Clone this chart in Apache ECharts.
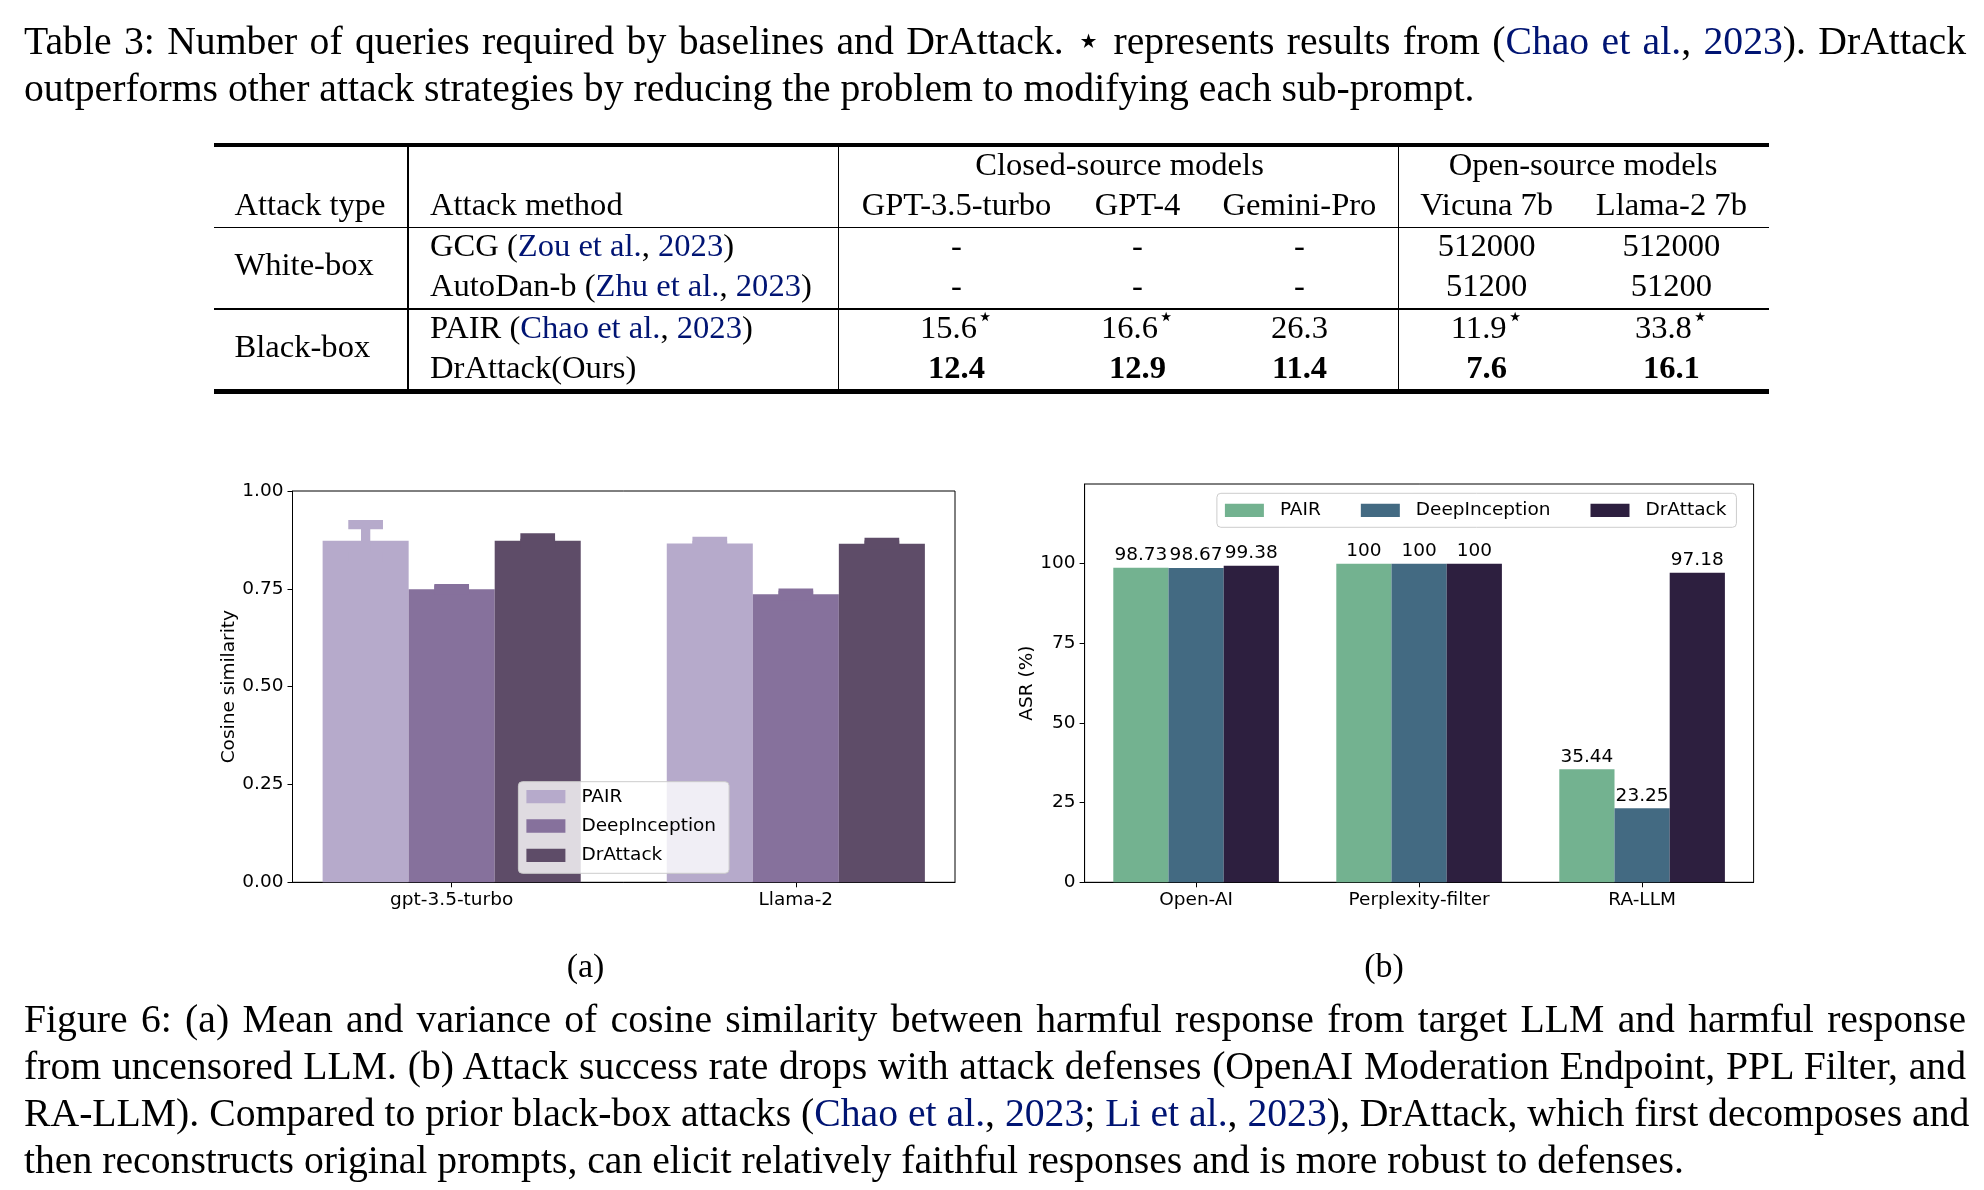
<!DOCTYPE html>
<html><head><meta charset="utf-8">
<script src="https://cdn.jsdelivr.net/npm/echarts@6/dist/echarts.min.js"></script>
<style>
html,body{margin:0;padding:0;background:#fff;}
body{width:1984px;height:1190px;position:relative;overflow:hidden;font-family:"Liberation Serif","Times New Roman",serif;color:#000;}
#chart{position:absolute;left:0;top:0;width:1984px;height:1190px;z-index:0;}
.txt{position:absolute;z-index:2;white-space:nowrap;line-height:0;height:0;}
.capline{position:absolute;z-index:2;left:24px;width:1942px;font-size:39.7px;line-height:46.8px;white-space:nowrap;text-align:left;}
.just{text-align:justify;text-align-last:justify;}
.cite{color:#001473;}
.rule{position:absolute;background:#000;z-index:2;}
sup.st{font-size:80%;vertical-align:baseline;position:relative;top:-0.5em;line-height:0;}
</style></head>
<body>
<div id="chart"></div>
<script>
// ---------------- DATA ----------------
const seriesNames = ['PAIR', 'DeepInception', 'DrAttack'];
// (a) cosine similarity
const catsA = ['gpt-3.5-turbo', 'Llama-2'];
const pairMeanA = [0.873, 0.866];
const pairErrA  = [0.041, 0.005];
const deepMeanA = [0.749, 0.736];
const deepErrA  = [0.0015, 0.003];
const drMeanA   = [0.873, 0.865];
const drErrA    = [0.007, 0.0035];
const yTicksA = [0, 0.25, 0.5, 0.75, 1.0];
// (b) ASR
const catsB = ['Open-AI', 'Perplexity-filter', 'RA-LLM'];
const pairB = [98.73, 100, 35.44];
const deepB = [98.67, 100, 23.25];
const drB   = [99.38, 100, 97.18];
const yTicksB = [0, 25, 50, 75, 100];
// table
const tableModels = ['GPT-3.5-turbo', 'GPT-4', 'Gemini-Pro', 'Vicuna 7b', 'Llama-2 7b'];
const rowGCG     = ['-', '-', '-', '512000', '512000'];
const rowAutoDan = ['-', '-', '-', '51200', '51200'];
const rowPAIR    = ['15.6', '16.6', '26.3', '11.9', '33.8'];
const rowPAIRstar = [true, true, false, true, true];
const rowDr      = ['12.4', '12.9', '11.4', '7.6', '16.1'];

// ---------------- TEXT / TABLE ----------------
function addText(html, x, baseline, fs, align, extra) {
  const d = document.createElement('div');
  d.className = 'txt';
  d.innerHTML = html;
  d.style.fontSize = fs + 'px';
  d.style.top = (baseline - 0.3375 * fs) + 'px';
  d.style.left = x + 'px';
  if (align === 'center') d.style.transform = 'translateX(-50%)';
  if (extra) d.style.cssText += extra;
  document.body.appendChild(d);
}
function addLine(html, top, justify) {
  const d = document.createElement('div');
  d.className = 'capline' + (justify ? ' just' : '');
  d.innerHTML = html;
  d.style.top = top + 'px';
  document.body.appendChild(d);
}
function addRule(x, y, w, h) {
  const d = document.createElement('div');
  d.className = 'rule';
  d.style.left = x + 'px'; d.style.top = y + 'px';
  d.style.width = w + 'px'; d.style.height = h + 'px';
  document.body.appendChild(d);
}
const cite = (a, y) => '(<span class="cite">' + a + '</span>, <span class="cite">' + y + '</span>)';

// top caption
const ct = 18.2;
addLine('Table 3: Number of queries required by baselines and DrAttack. <span style="font-size:100%">&#x22C6;</span> represents results from ' + cite('Chao et al.', '2023') + '. DrAttack', ct, true);
addLine('outperforms other attack strategies by reducing the problem to modifying each sub-prompt.', ct + 46.8, false);

// table rules
const TL = 214.3, TR = 1769;
addRule(TL, 142.5, TR - TL, 4.5);
addRule(TL, 226.5, TR - TL, 1.6);
addRule(TL, 308.3, TR - TL, 1.6);
addRule(TL, 389, TR - TL, 4.5);
[408, 838.4, 1398.7].forEach(x => addRule(x - 0.8, 146, 1.6, 244));

const TFS = 32.6;
const colX = [956.5, 1137.5, 1299.5, 1486.7, 1671.4];
const yH1 = 175, yH2 = 215.5, yR1 = 256, yR2 = 296.5, yR3 = 338, yR4 = 378;
addText('Closed-source models', 1119.5, yH1, TFS, 'center');
addText('Open-source models', 1583, yH1, TFS, 'center');
addText('Attack type', 234.5, yH2, TFS, 'left');
addText('Attack method', 430, yH2, TFS, 'left');
tableModels.forEach((m, i) => addText(m, colX[i], yH2, TFS, 'center'));
addText('White-box', 234.5, 275.5, TFS, 'left');
addText('Black-box', 234.5, 357, TFS, 'left');
addText('GCG ' + cite('Zou et al.', '2023'), 430, yR1, TFS, 'left');
addText('AutoDan-b ' + cite('Zhu et al.', '2023'), 430, yR2, TFS, 'left');
addText('PAIR ' + cite('Chao et al.', '2023'), 430, yR3, TFS, 'left');
addText('DrAttack(Ours)', 430, yR4, TFS, 'left');
rowGCG.forEach((v, i) => addText(v, colX[i], yR1, TFS, 'center'));
rowAutoDan.forEach((v, i) => addText(v, colX[i], yR2, TFS, 'center'));
rowPAIR.forEach((v, i) => addText(v + (rowPAIRstar[i] ? '<sup class="st">&#x22C6;</sup>' : ''), colX[i], yR3, TFS, 'center'));
rowDr.forEach((v, i) => addText('<b>' + v + '</b>', colX[i], yR4, TFS, 'center'));

// sub labels
addText('(a)', 585.5, 977, 34, 'center');
addText('(b)', 1384, 977, 34, 'center');

// bottom caption
const cb = 995.5;
addLine('Figure 6: (a) Mean and variance of cosine similarity between harmful response from target LLM and harmful response', cb, true);
addLine('from uncensored LLM. (b) Attack success rate drops with attack defenses (OpenAI Moderation Endpoint, PPL Filter, and', cb + 47, true);
addLine('RA-LLM). Compared to prior black-box attacks (<span class="cite">Chao et al.</span>, <span class="cite">2023</span>; <span class="cite">Li et al.</span>, <span class="cite">2023</span>), DrAttack, which first decomposes and', cb + 2 * 47, true);
addLine('then reconstructs original prompts, can elicit relatively faithful responses and is more robust to defenses.', cb + 3 * 47, false);

// ---------------- CHARTS ----------------
const FONT = 'DejaVu Sans';
const FS = 18.5;
const AX = '#000';
const colorsA = ['#b6aacb', '#86719c', '#5e4c68'];
const colorsB = ['#73b290', '#436a82', '#2d1f3f'];
const meansA = [pairMeanA, deepMeanA, drMeanA];
const errsA = [pairErrA, deepErrA, drErrA];
const dataB = [pairB, deepB, drB];

function errBarSeries(k) {
  return {
    type: 'custom',
    name: seriesNames[k] + '|a',
    xAxisIndex: 0, yAxisIndex: 0,
    itemStyle: { color: colorsA[k] },
    encode: { x: 0, y: 1 },
    data: catsA.map((c, i) => [i, meansA[k][i], errsA[k][i]]),
    renderItem(params, api) {
      const off = (k - 1) * 0.25;
      const x = api.value(0) + off, m = api.value(1), e = api.value(2);
      const col = api.visual('color');
      const tl = api.coord([x - 0.125, m]);
      const br = api.coord([x + 0.125, 0]);
      const top = api.coord([x, m + e]);
      const bot = api.coord([x, m - e]);
      const lw = 9.3, cw = 34.7;
      return {
        type: 'group', children: [
          { type: 'rect', shape: { x: tl[0], y: tl[1], width: br[0] - tl[0], height: br[1] - tl[1] }, style: { fill: col } },
          { type: 'rect', shape: { x: top[0] - lw / 2, y: top[1], width: lw, height: bot[1] - top[1] }, style: { fill: col } },
          { type: 'rect', shape: { x: top[0] - cw / 2, y: top[1] - lw / 2, width: cw, height: lw }, style: { fill: col } },
          { type: 'rect', shape: { x: bot[0] - cw / 2, y: bot[1] - lw / 2, width: cw, height: lw }, style: { fill: col } }
        ]
      };
    }
  };
}
function barSeriesB(k) {
  return {
    type: 'bar',
    name: seriesNames[k] + '|b',
    xAxisIndex: 1, yAxisIndex: 1,
    data: dataB[k],
    barWidth: 55.2,
    barGap: '0%',
    itemStyle: { color: colorsB[k] },
    label: { show: true, position: 'top', distance: 3, fontFamily: FONT, fontSize: FS, color: '#000',
             formatter: p => String(p.value) }
  };
}
const axisCommon = {
  axisLine: { show: true, onZero: false, lineStyle: { color: AX, width: 1 } },
  splitLine: { show: false },
  axisLabel: { fontFamily: FONT, fontSize: FS, color: '#000' }
};
const legendCommon = {
  icon: 'rect', itemWidth: 39, itemHeight: 13.3,
  backgroundColor: 'rgba(255,255,255,0.8)', borderColor: '#cccccc', borderWidth: 1, borderRadius: 4,
  selectedMode: false,
  formatter: n => n.split('|')[0],
  textStyle: { fontFamily: FONT, fontSize: FS, color: '#000', lineHeight: 20, padding: [0, 0, 0, 11] }
};

const option = {
  animation: false,
  backgroundColor: 'transparent',
  grid: [
    { left: 292.5, top: 491, width: 662.5, height: 391.3, show: true, borderColor: AX, borderWidth: 1, backgroundColor: 'transparent', containLabel: false, outerBoundsMode: 'none' },
    { left: 1084.6, top: 484, width: 669, height: 398.3, show: true, borderColor: AX, borderWidth: 1, backgroundColor: 'transparent', containLabel: false, outerBoundsMode: 'none' }
  ],
  xAxis: [
    Object.assign({}, axisCommon, {
      type: 'value', gridIndex: 0, min: -0.4625, max: 1.4625,
      axisTick: { show: true, length: 5, lineStyle: { color: AX }, customValues: [0, 1] },
      axisLabel: { fontFamily: FONT, fontSize: FS, color: '#000', margin: 8, customValues: [0, 1],
                   formatter: v => catsA[Math.round(v)] }
    }),
    Object.assign({}, axisCommon, {
      type: 'category', gridIndex: 1, data: catsB,
      axisTick: { show: true, length: 5, alignWithLabel: true, lineStyle: { color: AX } },
      axisLabel: { fontFamily: FONT, fontSize: FS, color: '#000', margin: 8 }
    })
  ],
  yAxis: [
    Object.assign({}, axisCommon, {
      type: 'value', gridIndex: 0, min: 0, max: 1, interval: 0.25,
      axisTick: { show: true, length: 5, lineStyle: { color: AX } },
      axisLabel: { fontFamily: FONT, fontSize: FS, color: '#000', margin: 9, customValues: yTicksA,
                   formatter: v => v.toFixed(2) },
      name: 'Cosine similarity', nameLocation: 'middle', nameGap: 53,
      nameTextStyle: { fontFamily: FONT, fontSize: FS, color: '#000' }
    }),
    Object.assign({}, axisCommon, {
      type: 'value', gridIndex: 1, min: 0, max: 125, interval: 25,
      axisTick: { show: true, length: 5, lineStyle: { color: AX }, customValues: yTicksB },
      axisLabel: { fontFamily: FONT, fontSize: FS, color: '#000', margin: 9, customValues: yTicksB },
      name: 'ASR (%)', nameLocation: 'middle', nameGap: 47,
      nameTextStyle: { fontFamily: FONT, fontSize: FS, color: '#000' }
    })
  ],
  legend: [
    Object.assign({}, legendCommon, {
      orient: 'vertical', left: 518.4, top: 781.7, itemGap: 9.3, padding: [5, 13, 8, 8],
      data: seriesNames.map(n => n + '|a')
    }),
    Object.assign({}, legendCommon, {
      orient: 'horizontal', left: 1216.9, top: 493.3, itemGap: 40, padding: [7, 10, 7, 8],
      data: seriesNames.map(n => n + '|b')
    })
  ],
  series: [0, 1, 2].map(errBarSeries).concat([0, 1, 2].map(barSeriesB))
};
const chart = echarts.init(document.getElementById('chart'), null, { renderer: 'canvas', width: 1984, height: 1190 });
chart.setOption(option);
</script>
</body></html>
